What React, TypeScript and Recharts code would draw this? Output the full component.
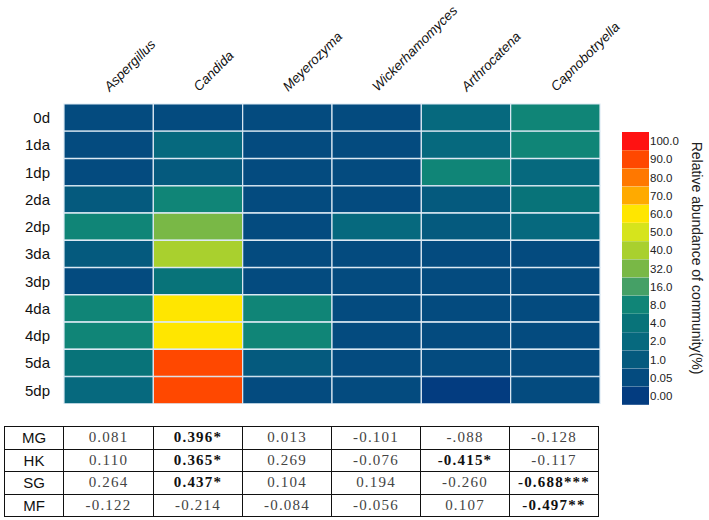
import { BarChart, Bar, Cell, XAxis, YAxis } from 'recharts';

const genera = ['Aspergillus', 'Candida', 'Meyerozyma', 'Wickerhamomyces', 'Arthrocatena', 'Capnobotryella'];
const samples = ['0d', '1da', '1dp', '2da', '2dp', '3da', '3dp', '4da', '4dp', '5da', '5dp'];

// relative abundance (%) of each genus, in sample order
const aspergillus = [0.4, 0.3, 0.3, 1.5, 10, 1.4, 0.3, 10, 10, 5, 3];
const candida = [0.3, 3, 1.5, 10, 35, 45, 5, 63, 63, 92, 92];
const meyerozyma = [0.2, 0.2, 0.2, 0.2, 0.2, 0.2, 0.2, 10, 10, 1.2, 0.3];
const wickerhamomyces = [0.3, 0.3, 0.3, 0.2, 3, 0.2, 0.2, 0.2, 0.2, 0.2, 0.2];
const arthrocatena = [3, 3, 10, 1.5, 1.5, 0.3, 0.3, 0.2, 0.2, 0.2, 0.02];
const capnobotryella = [10, 10, 2.5, 5, 3, 0.3, 0.3, 0.2, 0.2, 0.2, 0.2];
const abundance = [aspergillus, candida, meyerozyma, wickerhamomyces, arthrocatena, capnobotryella];

// colour scale, top to bottom
const scaleLabels = ['100.0', '90.0', '80.0', '70.0', '60.0', '50.0', '40.0', '32.0', '16.0', '8.0', '4.0', '2.0', '1.0', '0.05', '0.00'];
const scaleBreaks = [100, 90, 80, 70, 60, 50, 40, 32, 16, 8, 4, 2, 1, 0.05, 0];
const scaleColors = [
  '#ff1212', '#ff4800', '#ff7800', '#ffaa00', '#ffe600', '#d6e41c', '#a9d02e', '#79b846',
  '#45a066', '#108577', '#087379', '#06697e', '#055a7e', '#044b7f', '#033c80',
];

// correlation table
const factors = ['MG', 'HK', 'SG', 'MF'];
const mgValues = ['0.081', '0.396*', '0.013', '-0.101', '-.088', '-0.128'];
const hkValues = ['0.110', '0.365*', '0.269', '-0.076', '-0.415*', '-0.117'];
const sgValues = ['0.264', '0.437*', '0.104', '0.194', '-0.260', '-0.688***'];
const mfValues = ['-0.122', '-0.214', '-0.084', '-0.056', '0.107', '-0.497**'];
const tableRows = [mgValues, hkValues, sgValues, mfValues];

const colorFor = (v: number) => {
  const i = scaleBreaks.findIndex((b) => v >= b);
  return scaleColors[i < 0 ? scaleColors.length - 1 : i];
};

const heatData = samples.map((s, si) => {
  const row: Record<string, string | number> = { sample: s };
  genera.forEach((g, gi) => {
    row[g] = abundance[gi][si];
  });
  return row;
});

const legendData = scaleLabels.map((label, i) => ({ label, color: scaleColors[i] }));

const GenusTick = (props: any) => {
  const { x, y, payload } = props;
  const tx = x + 1;
  const ty = y;
  return (
    <text
      x={tx}
      y={ty}
      transform={`rotate(-45 ${tx} ${ty})`}
      fontFamily="Arial, 'Liberation Sans', sans-serif"
      fontStyle="italic"
      fontSize={13.5}
      fill="#111"
    >
      {genera[Math.floor(payload.value)]}
    </text>
  );
};

const unit = () => 1;

export default function App() {
  return (
    <div
      style={{
        position: 'absolute',
        left: 0,
        top: 0,
        width: 709,
        height: 520,
        background: '#fff',
        overflow: 'hidden',
        fontFamily: "Arial, 'Liberation Sans', sans-serif",
      }}
    >
      <div style={{ position: 'absolute', left: 0, top: 0 }}>
        <BarChart
          width={709}
          height={404}
          data={heatData}
          layout="vertical"
          barCategoryGap={0}
          margin={{ top: 0, right: 109, bottom: 0, left: 0 }}
        >
          <XAxis
            type="number"
            orientation="top"
            domain={[0, genera.length]}
            ticks={genera.map((_, i) => i + 0.5)}
            height={104}
            axisLine={false}
            tickLine={false}
            tickSize={0}
            tickMargin={12}
            interval={0}
            tick={<GenusTick />}
          />
          <YAxis
            type="category"
            dataKey="sample"
            width={64}
            axisLine={false}
            tickLine={false}
            tickSize={0}
            tickMargin={14}
            interval={0}
            tick={{ fontSize: 15, fill: '#111', fontFamily: 'Arial' }}
          />
          {genera.map((g, gi) => (
            <Bar
              key={g}
              dataKey={unit}
              name={g}
              stackId="heat"
              isAnimationActive={false}
              stroke="#dce9f4"
              strokeWidth={1.2}
            >
              {samples.map((s, si) => (
                <Cell key={`${g}-${s}`} fill={colorFor(abundance[gi][si])} />
              ))}
            </Bar>
          ))}
        </BarChart>
      </div>

      <div style={{ position: 'absolute', left: 622, top: 132 }}>
        <BarChart
          width={80}
          height={273}
          data={legendData}
          layout="vertical"
          barCategoryGap={0}
          margin={{ top: 0, right: 0, bottom: 0, left: 0 }}
        >
          <XAxis type="number" domain={[0, 1]} hide />
          <YAxis
            type="category"
            dataKey="label"
            orientation="right"
            width={53}
            axisLine={false}
            tickLine={false}
            tickSize={0}
            tickMargin={1}
            interval={0}
            tick={{ fontSize: 11.5, fill: '#222', fontFamily: 'Arial', textAnchor: 'start' }}
          />
          <Bar dataKey={unit} isAnimationActive={false}>
            {legendData.map((d) => (
              <Cell key={d.label} fill={d.color} />
            ))}
          </Bar>
        </BarChart>
      </div>

      <svg style={{ position: 'absolute', left: 680, top: 130 }} width={29} height={260}>
        <text
          x={17}
          y={128}
          transform="rotate(90 17 128)"
          textAnchor="middle"
          dominantBaseline="central"
          fontSize={14}
          fontFamily="Arial"
          fill="#222"
        >
          Relative abundance of community(%)
        </text>
      </svg>

      <table
        style={{
          position: 'absolute',
          left: 4,
          top: 426,
          borderCollapse: 'collapse',
          border: '1.5px solid #111',
          tableLayout: 'fixed',
        }}
      >
        <colgroup>
          <col style={{ width: 59 }} />
          {genera.map((g) => (
            <col key={g} style={{ width: g === 'Aspergillus' ? 90 : 89 }} />
          ))}
        </colgroup>
        <tbody>
          {factors.map((f, fi) => (
            <tr key={f} style={{ height: 22.5 }}>
              <td
                style={{
                  border: '1.5px solid #111',
                  textAlign: 'center',
                  fontSize: 15,
                  fontFamily: 'Arial',
                  color: '#111',
                  padding: 0,
                }}
              >
                {f}
              </td>
              {tableRows[fi].map((v, vi) => {
                const sig = v.includes('*');
                return (
                  <td
                    key={vi}
                    style={{
                      border: '1.5px solid #111',
                      textAlign: 'center',
                      fontSize: 15,
                      fontFamily: "'Liberation Serif', serif",
                      letterSpacing: 1.2,
                      fontWeight: sig ? 'bold' : 'normal',
                      color: sig ? '#111' : '#444',
                      padding: 0,
                    }}
                  >
                    {v}
                  </td>
                );
              })}
            </tr>
          ))}
        </tbody>
      </table>
    </div>
  );
}
